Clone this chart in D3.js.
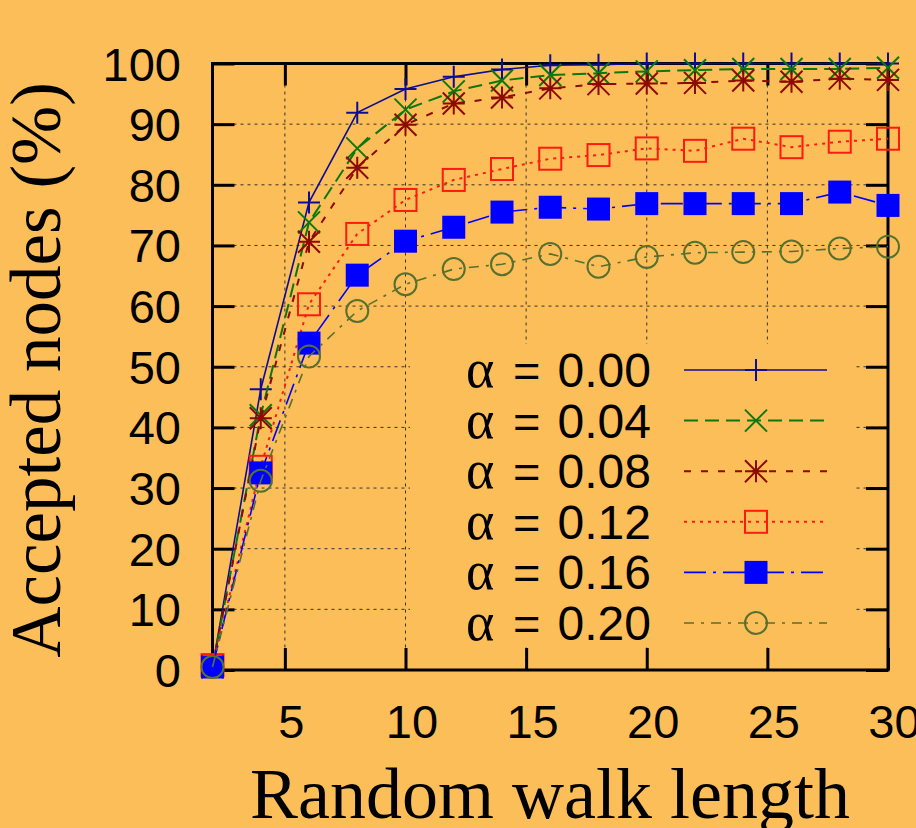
<!DOCTYPE html>
<html>
<head>
<meta charset="utf-8">
<script src="https://cdn.jsdelivr.net/npm/d3@7"></script>
<style>
  html, body { margin: 0; padding: 0; background: #fcbe58; }
  svg { display: block; }
</style>
</head>
<body>
<div id="chart"></div>
<script>
// walk lengths on the x axis
const walkLengths = [2, 4, 6, 8, 10, 12, 14, 16, 18, 20, 22, 24, 26, 28, 30];

// accepted nodes (%) per alpha
const alpha000 = [0.5, 46.3, 77.1, 91.9, 95.8, 97.8, 99.0, 99.7, 99.8, 100, 100, 100, 100, 100, 100];
const alpha004 = [0.5, 42.0, 73.8, 86.0, 92.4, 95.4, 97.2, 98.1, 98.4, 98.7, 98.9, 99.1, 99.1, 99.1, 99.3];
const alpha008 = [0.5, 41.5, 70.6, 82.8, 89.9, 93.4, 94.4, 95.9, 96.6, 96.7, 96.8, 97.2, 97.0, 97.5, 97.3];
const alpha012 = [0.8, 33.5, 60.3, 71.9, 77.5, 80.8, 82.6, 84.3, 84.9, 86.0, 85.6, 87.6, 86.2, 87.1, 87.6];
const alpha016 = [0.5, 32.5, 53.9, 65.1, 70.7, 73.0, 75.5, 76.3, 76.0, 76.9, 76.9, 76.9, 76.9, 78.8, 76.6];
const alpha020 = [0.5, 31.2, 51.7, 59.2, 63.6, 66.1, 66.9, 68.6, 66.5, 68.1, 68.8, 68.9, 69.0, 69.5, 69.8];

const seriesLabels = ["0.00", "0.04", "0.08", "0.12", "0.16", "0.20"];
const xTicks = [5, 10, 15, 20, 25, 30];
const yTicks = [0, 10, 20, 30, 40, 50, 60, 70, 80, 90, 100];

const series = [
  {label: seriesLabels[0], values: alpha000, color: "#0c0c96", dash: null, width: 1.6, marker: "plus"},
  {label: seriesLabels[1], values: alpha004, color: "#0b780b", dash: "14,7", width: 2, marker: "cross"},
  {label: seriesLabels[2], values: alpha008, color: "#8c0a00", dash: "7,10", width: 2, marker: "star"},
  {label: seriesLabels[3], values: alpha012, color: "#ff1a10", dash: "3,5", width: 2, marker: "square"},
  {label: seriesLabels[4], values: alpha016, color: "#0000ff", dash: "22,7,3,7", width: 1.6, marker: "filledSquare"},
  {label: seriesLabels[5], values: alpha020, color: "#55702f", dash: "10,7,3,7", width: 1.6, marker: "circle"}
];

const svgWidth = 916;
const svgHeight = 828;
const plotLeft = 212.5, plotRight = 888, plotTop = 63.5, plotBottom = 670;
const bg = "#fcbe58";
const sansFont = "'Liberation Sans', Arial, sans-serif";
const serifFont = "'Liberation Serif', 'Times New Roman', serif";

const xScale = d3.scaleLinear().domain([2, 30]).range([plotLeft, plotRight]);
const yScale = d3.scaleLinear().domain([0, 100]).range([plotBottom, plotTop]);

const svg = d3.select("#chart")
  .append("svg")
  .attr("width", svgWidth)
  .attr("height", svgHeight)
  .style("background-color", bg);

// grid
const grid = svg.append("g")
  .attr("stroke", "#333")
  .attr("stroke-width", 1)
  .attr("stroke-dasharray", "3,4");

grid.selectAll(".vgrid")
  .data(xTicks.filter(t => t < 30))
  .enter()
  .append("line")
    .attr("x1", d => xScale(d))
    .attr("x2", d => xScale(d))
    .attr("y1", plotTop)
    .attr("y2", plotBottom);

grid.selectAll(".hgrid")
  .data(yTicks.filter(t => t > 0 && t < 100))
  .enter()
  .append("line")
    .attr("x1", plotLeft)
    .attr("x2", plotRight)
    .attr("y1", d => yScale(d))
    .attr("y2", d => yScale(d));

// key box covers the grid
svg.append("rect")
  .attr("x", 410)
  .attr("y", 344)
  .attr("width", 445)
  .attr("height", 303)
  .attr("fill", bg);

// axes with inward ticks, mirrored on top/right
const tickLen = 22;
const xAxis = d3.axisBottom(xScale).tickValues(xTicks).tickSize(tickLen).tickFormat("");
const xAxisTop = d3.axisTop(xScale).tickValues(xTicks).tickSize(tickLen).tickFormat("");
const yAxis = d3.axisLeft(yScale).tickValues(yTicks).tickSize(tickLen).tickFormat("");
const yAxisRight = d3.axisRight(yScale).tickValues(yTicks).tickSize(tickLen).tickFormat("");

function styleAxis(g) {
  g.select(".domain").remove();
  g.selectAll(".tick line").attr("stroke", "#000").attr("stroke-width", 3);
}

svg.append("g").attr("transform", `translate(0, ${plotBottom - tickLen})`).call(xAxis).call(styleAxis);
svg.append("g").attr("transform", `translate(0, ${plotTop + tickLen})`).call(xAxisTop).call(styleAxis);
svg.append("g").attr("transform", `translate(${plotLeft + tickLen}, 0)`).call(yAxis).call(styleAxis);
svg.append("g").attr("transform", `translate(${plotRight - tickLen}, 0)`).call(yAxisRight).call(styleAxis);

// frame
svg.append("rect")
  .attr("x", plotLeft)
  .attr("y", plotTop)
  .attr("width", plotRight - plotLeft)
  .attr("height", plotBottom - plotTop)
  .attr("fill", "none")
  .attr("stroke", "#000")
  .attr("stroke-width", 3);

// tick labels
svg.selectAll(".xlab")
  .data(xTicks)
  .enter()
  .append("text")
    .attr("x", d => xScale(d) + 6.5)
    .attr("y", 738)
    .attr("text-anchor", "middle")
    .attr("font-family", sansFont)
    .attr("font-size", 47)
    .text(d => d);

svg.selectAll(".ylab")
  .data(yTicks)
  .enter()
  .append("text")
    .attr("x", 181)
    .attr("y", d => yScale(d) + 17)
    .attr("text-anchor", "end")
    .attr("font-family", sansFont)
    .attr("font-size", 47)
    .text(d => d);

// axis titles
svg.append("text")
  .attr("x", 550)
  .attr("y", 818)
  .attr("text-anchor", "middle")
  .attr("font-family", serifFont)
  .attr("font-size", 72)
  .text("Random walk length");

svg.append("text")
  .attr("transform", "translate(60, 370) rotate(-90)")
  .attr("text-anchor", "middle")
  .attr("font-family", serifFont)
  .attr("font-size", 71)
  .text("Accepted nodes (%)");

// markers
function drawMarker(g, type, color, cx, cy) {
  const s = 11;
  if (type === "plus") {
    g.append("path")
      .attr("d", `M${cx - s},${cy}H${cx + s}M${cx},${cy - s}V${cy + s}`)
      .attr("stroke", color).attr("stroke-width", 2).attr("fill", "none");
  } else if (type === "cross") {
    g.append("path")
      .attr("d", `M${cx - s},${cy - s}L${cx + s},${cy + s}M${cx - s},${cy + s}L${cx + s},${cy - s}`)
      .attr("stroke", color).attr("stroke-width", 2).attr("fill", "none");
  } else if (type === "star") {
    g.append("path")
      .attr("d", `M${cx - s},${cy}H${cx + s}M${cx},${cy - s}V${cy + s}` +
        `M${cx - s},${cy - s}L${cx + s},${cy + s}M${cx - s},${cy + s}L${cx + s},${cy - s}`)
      .attr("stroke", color).attr("stroke-width", 2).attr("fill", "none");
  } else if (type === "square") {
    g.append("rect")
      .attr("x", cx - 11).attr("y", cy - 11).attr("width", 22).attr("height", 22)
      .attr("stroke", color).attr("stroke-width", 2).attr("fill", "none");
  } else if (type === "filledSquare") {
    g.append("rect")
      .attr("x", cx - 11.5).attr("y", cy - 11.5).attr("width", 23).attr("height", 23)
      .attr("fill", color);
  } else if (type === "circle") {
    g.append("circle")
      .attr("cx", cx).attr("cy", cy).attr("r", 11)
      .attr("stroke", color).attr("stroke-width", 2).attr("fill", "none");
  }
}

const line = d3.line()
  .x((d, i) => xScale(walkLengths[i]))
  .y(d => yScale(d));

// data series
series.forEach(s => {
  const g = svg.append("g");
  g.append("path")
    .attr("d", line(s.values))
    .attr("fill", "none")
    .attr("stroke", s.color)
    .attr("stroke-width", s.width)
    .attr("stroke-dasharray", s.dash);
  s.values.forEach((v, i) => drawMarker(g, s.marker, s.color, xScale(walkLengths[i]), yScale(v)));
});

// key
const keyTop = 370, keyStep = 50.6;
series.forEach((s, i) => {
  const y = keyTop + i * keyStep;
  const g = svg.append("g");
  g.append("text")
    .attr("x", 466)
    .attr("y", y + 17)
    .attr("font-family", serifFont)
    .attr("font-size", 54)
    .text("α");
  g.append("text")
    .attr("x", 513)
    .attr("y", y + 17)
    .attr("font-family", sansFont)
    .attr("font-size", 47)
    .text("=");
  g.append("text")
    .attr("x", 651)
    .attr("y", y + 17)
    .attr("text-anchor", "end")
    .attr("font-family", sansFont)
    .attr("font-size", 48)
    .text(s.label);
  g.append("line")
    .attr("x1", 684).attr("x2", 827)
    .attr("y1", y).attr("y2", y)
    .attr("stroke", s.color)
    .attr("stroke-width", s.width)
    .attr("stroke-dasharray", s.dash);
  drawMarker(g, s.marker, s.color, 756, y);
});
</script>
</body>
</html>
